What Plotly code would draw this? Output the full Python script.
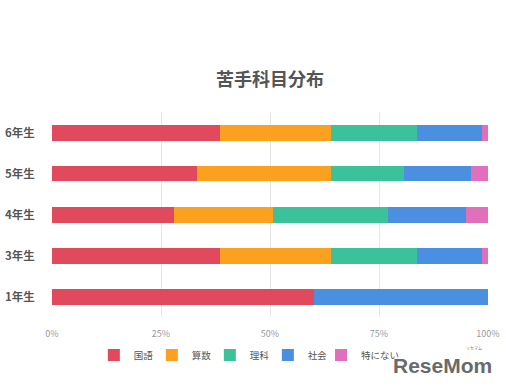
import plotly.graph_objects as go

grades = ["1年生", "3年生", "4年生", "5年生", "6年生"]
subjects = ["国語", "算数", "理科", "社会", "特にない"]
kokugo = [60.0, 38.5, 28.0, 33.2, 38.5]
sansu = [0.0, 25.6, 22.8, 30.7, 25.6]
rika = [0.0, 19.6, 26.3, 16.8, 19.6]
shakai = [40.0, 15.0, 17.8, 15.5, 15.0]
tokuninai = [0.0, 1.3, 5.1, 3.8, 1.3]
series = [kokugo, sansu, rika, shakai, tokuninai]
colors = ["#E04A5C", "#FCA01F", "#3BC29B", "#4A8FE0", "#E070BC"]
xticks = [0, 25, 50, 75, 100]
xticklabels = ["0%", "25%", "50%", "75%", "100%"]

fig = go.Figure()
for i, (name, vals, c) in enumerate(zip(subjects, series, colors)):
    fig.add_trace(go.Bar(y=grades, x=vals, name=name, orientation="h",
                         marker=dict(color=c, line=dict(width=0)),
                         legend="legend2" if i == 4 else "legend"))

legend_common = dict(orientation="h", yanchor="middle", y=-0.185,
                     font=dict(size=9.5, color="#555"), traceorder="normal",
                     bgcolor="rgba(0,0,0,0)", itemwidth=30, xanchor="left")

fig.update_layout(
    width=506, height=390,
    barmode="stack", bargap=0.61,
    paper_bgcolor="white", plot_bgcolor="white",
    margin=dict(l=52, r=18, t=112, b=73, autoexpand=False),
    font=dict(family="Noto Sans CJK JP", color="#555"),
    title=dict(text="<b>苦手科目分布</b>", x=0.5, xref="paper", xanchor="center",
               y=1 - 80 / 390, yanchor="middle",
               font=dict(size=18, color="#555", family="Noto Sans CJK JP")),
    xaxis=dict(range=[0, 100], tickvals=xticks, ticktext=xticklabels,
               showgrid=True, gridcolor="#e6e6e6", gridwidth=1, zeroline=False,
               ticks="outside", ticklen=8, tickcolor="rgba(0,0,0,0)",
               tickfont=dict(size=9, color="#999"), showline=False, automargin=False),
    yaxis=dict(categoryorder="array", categoryarray=grades, showgrid=False,
               ticks="outside", ticklen=14, tickcolor="rgba(0,0,0,0)",
               tickfont=dict(size=11.5, color="#555", weight="bold"),
               showline=False, zeroline=False, automargin=False),
    legend=dict(x=0.096, entrywidth=13, entrywidthmode="pixels", **legend_common),
    legend2=dict(x=0.617, **legend_common),
    showlegend=True,
)
fig.add_annotation(text="<b>ReseMom</b>", xref="paper", yref="paper",
                   x=1.014, y=-0.236, xanchor="right", yanchor="middle",
                   showarrow=False, font=dict(size=21, color="#6a6a6a", family="Liberation Sans, Arial"))
fig.add_annotation(text="リセマム", xref="paper", yref="paper",
                   x=0.968, y=-0.15, xanchor="center", yanchor="middle",
                   showarrow=False, font=dict(size=4, color="#777"))
fig.write_html("out.html", config={"displayModeBar": False},
               post_script="document.body.style.margin='0';document.body.style.padding='0';")
